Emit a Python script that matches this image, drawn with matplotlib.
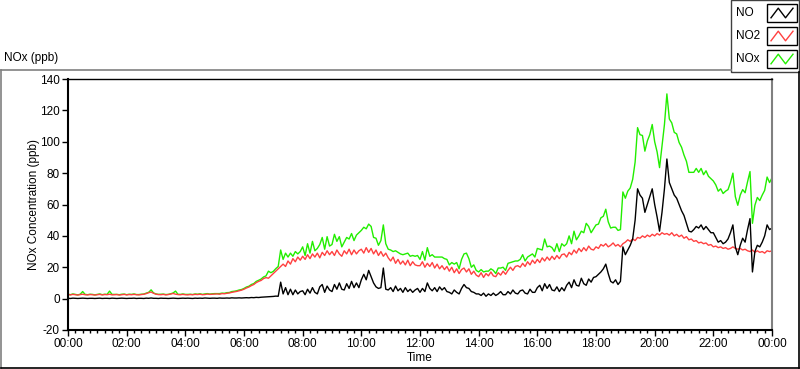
import numpy as np
import matplotlib
matplotlib.use("Agg")
import matplotlib.pyplot as plt
from matplotlib.lines import Line2D
from matplotlib.patches import Rectangle
from matplotlib.ticker import MultipleLocator, FixedLocator

plt.rcParams['font.family'] = ['Liberation Sans', 'DejaVu Sans']

# ---- data (5-minute samples, 00:00 .. 24:00) ----
minutes = np.arange(0, 1441, 5)

no = [
    0.2, 0.1, 0.3, 0.2, 0.1, 0.2, 0.3, 0.2, 0.1, 0.2, 0.2, 0.1,
    0.2, 0.3, 0.1, 0.2, 0.2, 0.1, 0.3, 0.2, 0.1, 0.2, 0.3, 0.2,
    0.1, 0.2, 0.2, 0.3, 0.1, 0.2, 0.2, 0.1, 0.3, 0.2, 0.4, 0.2,
    0.2, 0.1, 0.3, 0.2, 0.2, 0.1, 0.2, 0.3, 0.2, 0.1, 0.2, 0.3,
    0.2, 0.3, 0.2, 0.1, 0.3, 0.2, 0.3, 0.2, 0.4, 0.3, 0.2, 0.3,
    0.3, 0.2, 0.4, 0.3, 0.3, 0.4, 0.3, 0.5, 0.4, 0.4, 0.5, 0.4,
    0.5, 0.6, 0.5, 0.7, 0.6, 0.8, 0.7, 0.9, 1.0, 1.1, 1.2, 1.3,
    1.4, 1.6, 1.5, 10.5, 3.0, 7.0, 2.5, 6.0, 2.5, 5.5, 3.0, 4.5,
    5.0, 2.5, 6.0, 3.5, 7.0, 4.0, 3.0, 7.5, 9.0, 4.0, 8.0, 5.5,
    4.5, 9.0, 6.0, 10.0, 6.0, 5.5, 9.5, 6.5, 11.0, 7.0, 10.0, 7.0,
    12.0, 15.5, 12.0, 18.0, 14.0, 10.0, 7.5, 6.5, 7.0, 19.5, 6.0, 5.5,
    7.0, 4.5, 8.0, 5.0, 6.5, 4.0, 7.0, 4.5, 6.0, 4.0, 5.5, 6.5,
    4.0, 6.5, 4.5, 10.0, 6.5, 5.0, 7.0, 4.5, 7.5, 5.5, 7.0, 4.5,
    4.0, 3.0, 5.5, 4.0, 3.0, 6.5, 9.0, 7.0, 6.5, 4.5, 4.0, 3.0,
    3.0, 2.0, 3.5, 1.5, 3.0, 2.0, 3.5, 2.0, 3.0, 4.5, 2.5, 2.5,
    4.5, 3.0, 5.5, 3.5, 3.0, 5.0, 5.5, 3.5, 3.0, 6.0, 4.0, 4.0,
    7.0, 8.5, 5.0, 9.5, 6.5, 9.0, 5.5, 5.0, 7.5, 4.5, 7.0, 5.0,
    8.5, 10.5, 7.0, 12.0, 8.5, 8.0, 13.0, 9.5, 8.5, 12.5, 10.5, 13.5,
    14.0, 15.5, 17.0, 19.0, 22.0, 16.0, 11.0, 10.0, 12.0, 9.0, 11.0, 33.0,
    28.0, 31.0, 34.0, 38.0, 50.0, 70.0, 66.0, 64.0, 55.0, 60.0, 65.0, 70.0,
    60.0, 52.0, 43.0, 55.0, 70.0, 89.0, 74.0, 70.0, 66.0, 64.0, 60.0, 56.0,
    53.0, 48.0, 43.0, 42.5, 44.0, 46.0, 45.0, 47.0, 44.0, 46.0, 44.0, 42.0,
    42.0, 39.0, 36.0, 37.0, 35.0, 36.0, 38.0, 42.0, 47.0, 33.0, 28.0, 34.0,
    38.5, 36.0, 44.0, 51.0, 17.0, 30.0, 34.0, 33.0, 36.0, 40.0, 47.0, 44.0,
    45.0,
]

no2 = [
    2.6, 2.4, 2.7, 2.5, 2.3, 2.6, 2.8, 2.5, 2.4, 2.6, 2.5, 2.3,
    2.5, 2.7, 2.4, 2.6, 2.5, 2.8, 2.4, 2.5, 2.6, 2.3, 2.5, 2.7,
    2.4, 2.6, 2.5, 2.7, 2.5, 2.4, 2.6, 2.8, 3.2, 3.8, 4.2, 3.4,
    2.8, 2.6, 2.5, 2.7, 2.4, 2.6, 2.9, 3.3, 2.8, 2.6, 2.5, 2.7,
    2.5, 2.4, 2.6, 2.5, 2.7, 2.6, 2.8, 2.5, 2.6, 2.9, 2.7, 2.8,
    2.9, 3.0, 2.8, 3.2, 3.1, 3.4, 3.6, 4.0, 4.3, 4.6, 5.0, 5.4,
    6.0, 6.8, 7.4, 8.3, 9.0, 10.2, 11.0, 11.6, 12.8, 13.4, 13.0, 14.5,
    16.0, 17.5, 19.0, 20.5, 22.0, 20.5, 24.0, 22.0, 25.5, 23.5, 26.5, 24.5,
    27.0, 25.0, 28.0, 25.5, 28.5, 26.5, 29.0, 26.0, 29.5, 27.5, 30.5, 28.0,
    30.0, 27.5, 31.0, 28.5, 27.0, 30.5, 28.5, 31.5, 28.0, 31.0, 28.5, 30.5,
    31.5, 29.0, 32.5, 29.5, 32.0, 28.5, 31.0, 27.5, 30.0, 27.0, 29.0, 26.0,
    24.0, 26.5, 22.5, 25.0, 22.0, 24.0, 21.5, 24.5, 21.0, 23.5, 21.5, 21.0,
    21.0, 23.5, 20.0, 22.5, 20.5, 23.0, 19.5, 22.0, 19.0, 21.0, 18.5, 20.5,
    17.5, 20.0, 16.5, 19.0, 16.0, 18.5, 19.5, 17.0, 19.0, 15.5, 17.5, 15.0,
    14.0, 16.5, 13.5, 16.0, 14.5, 17.0, 14.5, 14.0, 16.5, 15.0, 17.5, 15.5,
    18.0, 20.0, 18.0, 20.5, 21.0, 20.0, 22.5, 20.5, 23.5, 21.5, 24.5, 22.5,
    25.0, 23.0, 26.0, 24.0, 26.5, 24.5, 27.0, 25.0, 27.5, 25.5, 28.0, 28.5,
    26.5, 29.5, 28.0, 31.0, 29.0, 32.0, 30.0, 32.5, 30.5, 33.5, 31.5, 31.0,
    33.0, 32.0, 34.5, 33.5, 35.0, 33.0, 34.0, 35.5, 33.5, 34.5, 33.0, 35.0,
    36.0, 37.5, 36.5, 38.0, 37.0, 39.0, 38.5, 40.0, 39.0, 40.5, 39.5, 41.0,
    40.0, 41.5, 40.5, 42.0, 41.0, 41.5, 40.5, 42.0, 40.0, 41.0, 39.5, 40.5,
    38.5, 39.5, 37.5, 38.0, 36.5, 37.0, 35.5, 36.0, 35.0, 35.5, 34.0, 34.5,
    33.0, 33.5, 32.5, 33.0, 32.0, 32.5, 31.5, 32.0, 33.0, 32.0, 31.5, 32.0,
    31.0, 31.5, 30.5, 30.0, 31.0, 29.5, 30.5, 29.5, 30.0, 29.0, 30.5, 30.0,
    30.5,
]

nox = [
    2.8, 2.5, 3.0, 2.7, 2.4, 2.8, 4.5, 2.7, 2.5, 2.8, 2.7, 2.4,
    2.7, 3.0, 2.5, 2.8, 2.7, 4.8, 2.7, 2.7, 2.7, 2.5, 2.8, 2.9,
    2.5, 2.8, 2.7, 3.0, 2.6, 2.6, 2.8, 2.9, 3.5, 4.0, 5.6, 3.6,
    3.0, 2.7, 2.8, 2.9, 2.6, 2.7, 3.1, 3.6, 4.8, 2.7, 2.7, 3.0,
    2.7, 2.7, 2.8, 2.6, 3.0, 2.8, 3.1, 2.7, 3.0, 3.2, 2.9, 3.1,
    3.2, 3.2, 3.2, 3.5, 3.4, 3.8, 3.9, 4.5, 4.7, 5.0, 5.5, 5.8,
    6.5, 7.4, 7.9, 9.0, 9.6, 11.0, 11.7, 12.5, 13.8, 14.5, 17.5, 16.5,
    17.4, 19.1, 20.5, 31.0, 25.0, 29.0, 26.5, 29.0, 27.0, 30.0, 28.5, 30.0,
    33.0, 27.5, 35.0, 29.0, 36.5, 30.5, 32.0, 34.5, 39.0, 31.5, 39.5, 33.5,
    34.5, 41.0, 36.5, 39.5, 33.0, 36.0, 39.0, 38.0, 41.5, 37.0, 40.5, 42.0,
    43.5, 45.5, 44.5, 47.5, 46.0, 39.0, 38.5, 34.0, 37.0, 47.0, 35.0, 31.5,
    31.0, 30.0, 30.5, 29.5, 28.5, 28.0, 28.5, 29.0, 27.0, 27.5, 27.0, 27.5,
    25.0, 30.0, 24.5, 32.5, 27.0, 28.0, 26.5, 26.5, 26.5, 26.5, 25.5, 25.0,
    21.5, 23.0, 22.0, 23.0, 19.0, 25.0, 28.5, 29.0, 25.5, 20.0, 21.5, 18.0,
    17.0, 18.5, 17.0, 17.5, 17.5, 19.0, 18.0, 16.0, 19.5, 19.5, 20.0, 18.0,
    22.5, 23.0, 23.5, 24.0, 24.0, 25.0, 28.0, 24.0, 26.5, 27.5, 28.5, 26.5,
    32.0, 31.5, 31.0, 38.0, 33.0, 33.5, 32.5, 30.0, 35.0, 30.0, 35.0, 33.5,
    35.0, 40.0, 35.0, 43.0, 37.5, 40.0, 43.0, 42.0, 48.0, 46.0, 42.0, 44.5,
    47.0, 47.5, 51.5, 52.5, 57.0, 49.0, 45.0, 45.5, 45.5, 43.5, 44.0, 68.0,
    64.0, 68.5, 70.5, 76.0, 87.0, 109.0, 104.5, 104.0, 94.0, 100.5, 104.5, 111.0,
    100.0, 93.5, 83.5, 97.0, 111.0, 130.5, 114.5, 112.0, 106.0, 105.0, 99.5, 96.5,
    91.5, 87.5, 80.5, 80.5, 80.5, 83.0, 80.5, 83.0, 79.0, 81.5, 78.0, 76.5,
    75.0, 72.5, 68.5, 70.0, 67.0, 68.5, 69.5, 74.0, 80.0, 65.0, 59.5, 66.0,
    69.5, 67.5, 74.5, 81.0, 48.0, 59.5, 64.5, 62.5, 66.0, 69.0, 77.5, 74.0,
    77.0,
]

series_names = ["NO", "NO2", "NOx"]
series_colors = ["#000000", "#ff4040", "#22ee00"]
xtick_labels = ["00:00", "02:00", "04:00", "06:00", "08:00", "10:00", "12:00",
                "14:00", "16:00", "18:00", "20:00", "22:00", "00:00"]
ytick_values = [-20, 0, 20, 40, 60, 80, 100, 120, 140]

# ---- figure ----
W, H = 800, 369
fig = plt.figure(figsize=(W / 100, H / 100), dpi=100)

def fx(px):
    return px / W

def fy(py):
    return 1 - py / H

FS = 8.5

# outer graph frame
frame_lines = [
    ((1, 1), (70, 368), "#808080"),
    ((1, 731), (70, 70), "#808080"),
    ((1, 799), (368, 368), "#000000"),
    ((799, 799), (72, 368), "#000000"),
]
for xs, ys, c in frame_lines:
    fig.add_artist(Line2D([fx(xs[0]), fx(xs[1])], [fy(ys[0]), fy(ys[1])],
                          color=c, lw=1.2, transform=fig.transFigure))

fig.text(fx(4), fy(58), "NOx (ppb)", fontsize=FS, ha="left", va="center")

ax = fig.add_axes([fx(68), fy(330), fx(772) - fx(68), fy(79) - fy(330)])
hours = minutes / 60.0
ax.plot(hours, nox, color=series_colors[2], lw=1.0)
ax.plot(hours, no2, color=series_colors[1], lw=1.0)
ax.plot(hours, no, color=series_colors[0], lw=1.0)

ax.set_xlim(0, 24)
ax.set_ylim(-20, 140)
ax.xaxis.set_major_locator(FixedLocator(np.arange(0, 25, 2)))
ax.set_xticklabels(xtick_labels)
ax.xaxis.set_minor_locator(MultipleLocator(0.25))
ax.set_yticks(ytick_values)
ax.set_yticklabels([str(v) for v in ytick_values])

ax.tick_params(axis="both", which="major", direction="out", length=4,
               width=1, labelsize=FS, pad=2, colors="black")
ax.tick_params(axis="x", which="minor", direction="out", length=2.5, width=1)
ax.tick_params(axis="y", which="minor", left=False)

for side in ["left", "bottom", "top"]:
    ax.spines[side].set_color("black")
ax.spines["left"].set_linewidth(1.5)
ax.spines["bottom"].set_linewidth(1.5)
ax.spines["top"].set_linewidth(1.0)
ax.spines["right"].set_color("#808080")
ax.spines["right"].set_linewidth(1.5)

ax.set_xlabel("Time", fontsize=FS, labelpad=1)
ax.set_ylabel("NOx Concentration (ppb)", fontsize=FS, labelpad=0)

# ---- legend (LabVIEW style plot legend) ----
fig.add_artist(Rectangle((fx(731), fy(72)), fx(799) - fx(731), fy(0) - fy(72),
                         transform=fig.transFigure, facecolor="white",
                         edgecolor="#404040", lw=1.0))
zig_x = [0.0, 0.33, 0.66, 1.0]
zig_y = [0.1, 0.9, 0.1, 0.9]
for i, (name, col) in enumerate(zip(series_names, series_colors)):
    yc = 13 + 23 * i
    fig.text(fx(736), fy(yc), name, fontsize=FS, ha="left", va="center")
    bx0, bx1 = 767, 797
    by0, by1 = yc - 9, yc + 9
    fig.add_artist(Rectangle((fx(bx0), fy(by1)), fx(bx1) - fx(bx0), fy(by0) - fy(by1),
                             transform=fig.transFigure, facecolor="white",
                             edgecolor="black", lw=1.0))
    xs = [fx(bx0 + 4 + z * (bx1 - bx0 - 8)) for z in zig_x]
    ys = [fy(by1 - 3 - z * (by1 - by0 - 6)) for z in zig_y]
    fig.add_artist(Line2D(xs, ys, color=col, lw=1.0, transform=fig.transFigure))

fig.savefig("out.png", dpi=100)
